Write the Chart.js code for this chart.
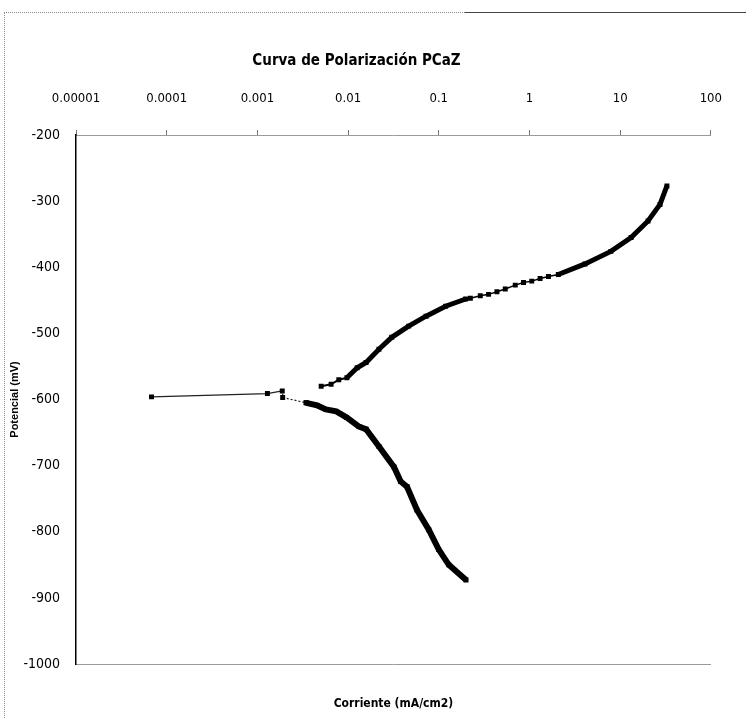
<!DOCTYPE html>
<html>
<head>
<meta charset="utf-8">
<script src="https://cdn.jsdelivr.net/npm/chart.js@4.4.1/dist/chart.umd.min.js"></script>
<style>
  html, body { margin: 0; padding: 0; background: #ffffff; }
  #wrap { position: relative; width: 746px; height: 719px; }
  #frame { position: absolute; left: 4px; top: 12px; width: 742px; height: 707px;
           border-left: 1px dotted #8a8a8a; border-top: 1px dotted #8a8a8a; pointer-events: none; }
  #frame2 { position: absolute; left: 465px; top: 12px; width: 281px; height: 0;
           border-top: 1px solid #444444; pointer-events: none; }
  canvas { position: absolute; left: 0; top: 0; }
</style>
</head>
<body>
<div id="wrap">
  <canvas id="c" width="746" height="719"></canvas>
  <div id="frame"></div>
  <div id="frame2"></div>
</div>
<script>
// ---- Data (current in mA/cm2, potential in mV) ----
const chartTitle = 'Curva de Polarización PCaZ';
const xAxisTitle = 'Corriente (mA/cm2)';
const yAxisTitle = 'Potencial (mV)';

const xTickValues = [0.00001, 0.0001, 0.001, 0.01, 0.1, 1, 10, 100];
const xTickLabels = ['0.00001', '0.0001', '0.001', '0.01', '0.1', '1', '10', '100'];
const yTickLabels = ['-200', '-300', '-400', '-500', '-600', '-700', '-800', '-900', '-1000'];

// near the corrosion potential (thin connecting segment)
const ecorrI = [0.0000680, 0.00129, 0.00188, 0.00190, 0.00345];
const ecorrE = [-596, -591, -587, -597, -605];

// cathodic branch
const cathodicI = [0.00345, 0.00457, 0.0057, 0.0074, 0.0096, 0.0132, 0.0158, 0.0219, 0.0321, 0.038, 0.0447, 0.0575, 0.0776, 0.100, 0.129, 0.200];
const cathodicE = [-605, -609, -615, -618, -627, -641, -645, -671, -702, -724, -732, -767, -797, -827, -850, -873];

// anodic branch
const anodicI = [0.00505, 0.0065, 0.0079, 0.0097, 0.0126, 0.0158, 0.0219, 0.0303, 0.0466, 0.0724, 0.119, 0.198, 0.223, 0.287, 0.354, 0.438, 0.541, 0.697, 0.86, 1.06, 1.31, 1.62, 2.08, 4.1, 7.9, 13.2, 20.3, 27.5, 32.8];
const anodicE = [-580, -577, -570, -567, -552, -544, -524, -506, -489, -474, -459, -448, -447, -443, -441, -437, -433, -427, -423, -421, -417, -414, -411, -395, -376, -355, -330, -305, -277];

const pts = (xs, ys) => xs.map((x, i) => ({ x: x, y: ys[i] }));

Chart.defaults.font.family = "'Liberation Sans Narrow', 'DejaVu Sans Condensed', 'Liberation Sans', Arial, sans-serif";
Chart.defaults.color = '#000000';

const fixedTicks = (scale) => { scale.ticks = xTickValues.map(v => ({ value: v })); };

new Chart(document.getElementById('c'), {
  type: 'scatter',
  data: {
    datasets: [
      {
        label: 'Ecorr',
        data: pts(ecorrI, ecorrE),
        showLine: true,
        borderColor: '#222222',
        borderWidth: 1.2,
        backgroundColor: '#000000',
        pointStyle: 'rect',
        pointRadius: 3.5,
        pointBorderWidth: 0,
        segment: { borderDash: (ctx) => ctx.p0DataIndex >= 2 ? [2, 2] : undefined }
      },
      {
        label: 'Catódica',
        data: pts(cathodicI, cathodicE),
        showLine: true,
        borderColor: '#000000',
        borderWidth: 6,
        backgroundColor: '#000000',
        pointStyle: 'rect',
        pointRadius: 3.5,
        pointBorderWidth: 0
      },
      {
        label: 'Anódica',
        data: pts(anodicI, anodicE),
        showLine: true,
        borderColor: '#000000',
        borderWidth: 5,
        backgroundColor: '#000000',
        pointStyle: 'rect',
        pointRadius: 3.5,
        pointBorderWidth: 0,
        segment: {
          borderWidth: (ctx) => (ctx.p0.parsed.x >= 0.19 && ctx.p1.parsed.x <= 2.1) ? 1.5 : (ctx.p1.parsed.x <= 0.011 ? 2 : 5)
        }
      }
    ]
  },
  options: {
    responsive: false,
    animation: false,
    events: [],
    layout: { padding: { left: 0, right: 33, top: 0, bottom: 0 } },
    plugins: {
      legend: { display: false },
      tooltip: { enabled: false },
      title: {
        display: true,
        text: chartTitle,
        color: '#000000',
        font: { size: 15, weight: 'bold' },
        padding: { top: 52, bottom: 10 }
      }
    },
    scales: {
      x: {
        type: 'logarithmic',
        position: 'top',
        min: 0.00001,
        max: 100,
        afterBuildTicks: fixedTicks,
        afterFit: (s) => { s.height = 136 - 81; },
        ticks: {
          autoSkip: false,
          maxRotation: 0,
          padding: 24,
          font: { size: 13 },
          callback: (v, i) => xTickLabels[i]
        },
        grid: { display: true, drawOnChartArea: false, drawTicks: true, tickLength: 5, color: '#777777' },
        border: { display: true, color: '#9a9a9a', width: 1, dash: [2, 4] }
      },
      x2: {
        type: 'logarithmic',
        position: 'bottom',
        min: 0.00001,
        max: 100,
        afterFit: (s) => { s.height = 719 - 664; },
        ticks: { display: false },
        grid: { display: false },
        border: { display: true, color: '#9a9a9a', width: 1, dash: [2, 4] },
        title: {
          display: true,
          text: xAxisTitle,
          font: { size: 12, weight: 'bold' },
          padding: { top: 0, bottom: 8 }
        }
      },
      y: {
        type: 'linear',
        position: 'left',
        min: -1000,
        max: -200,
        afterFit: (s) => { s.width = 76; },
        ticks: {
          stepSize: 100,
          padding: 16,
          font: { size: 14 },
          callback: (v) => yTickLabels[Math.round((-200 - v) / 100)]
        },
        grid: { display: true, drawOnChartArea: false, drawTicks: false },
        border: { display: true, color: '#000000', width: 1.5 },
        title: {
          display: true,
          text: yAxisTitle,
          font: { family: "'Liberation Sans', Arial, sans-serif", size: 11, weight: 'bold' },
          padding: { top: 8, bottom: 0 }
        }
      }
    }
  }
});
</script>
</body>
</html>
